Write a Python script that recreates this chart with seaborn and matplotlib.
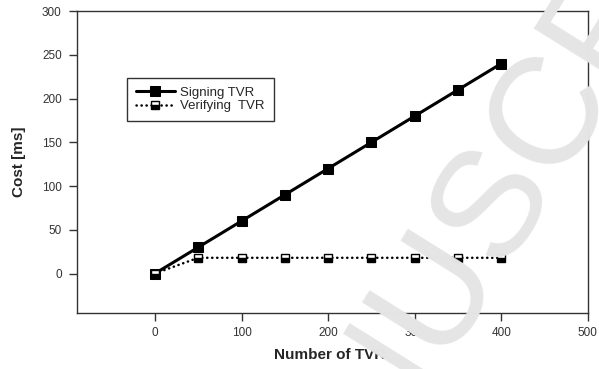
import pandas as pd
import matplotlib
matplotlib.use("Agg")
import matplotlib.pyplot as plt
import seaborn as sns

# values
tvr_counts = [0, 50, 100, 150, 200, 250, 300, 350, 400]
signing_ms = [0, 30, 60, 90, 120, 150, 180, 210, 240]
verifying_ms = [0, 18, 18, 18, 18, 18, 18, 18, 18]
x_ticks = [0, 100, 200, 300, 400, 500]
y_ticks = [0, 50, 100, 150, 200, 250, 300]

df = pd.DataFrame({"tvr": tvr_counts, "Signing TVR": signing_ms, "Verifying  TVR": verifying_ms})

sns.set_theme(style="white")
plt.rcParams['font.family'] = ['Liberation Sans', 'DejaVu Sans']

fig = plt.figure(figsize=(5.99, 3.69), dpi=100)
ax = fig.add_axes([0.1285, 0.152, 0.853, 0.818])

sns.lineplot(data=df, x="tvr", y="Signing TVR", ax=ax, color="black", linewidth=2.2,
             marker="s", markersize=6.5, markeredgecolor="black", markerfacecolor="black",
             label="Signing TVR")
sns.lineplot(data=df, x="tvr", y="Verifying  TVR", ax=ax, color="black", linewidth=1.8,
             linestyle=(0, (0.1, 1.9)), dash_capstyle="round",
             marker="s", markersize=6, markeredgecolor="black", markeredgewidth=1,
             fillstyle="bottom", markerfacecolor="black", markerfacecoloralt="white",
             label="Verifying  TVR")

ax.set_xlim(-90, 500)
ax.set_ylim(-45, 300)
ax.set_xticks(x_ticks)
ax.set_yticks(y_ticks)
ax.tick_params(axis="both", direction="out", length=6, width=1, color="#333333",
               labelsize=8.5, labelcolor="#333333",
               bottom=True, left=True, top=False, right=False)
ax.tick_params(axis="y", pad=5)
ax.tick_params(axis="x", pad=4)
for s in ax.spines.values():
    s.set_color("#333333")
    s.set_linewidth(1)

ax.set_xlabel("Number of TVR", fontsize=11, fontweight="bold")
ax.set_ylabel("Cost [ms]", fontsize=11, fontweight="bold")
ax.xaxis.set_label_coords(0.495, -0.139)
ax.xaxis.label.set_va("center")
ax.yaxis.set_label_coords(-0.1135, 0.5)
ax.yaxis.label.set_va("center")

leg = ax.legend(loc="upper left", bbox_to_anchor=(0.212, 0.789), bbox_transform=fig.transFigure,
                fontsize=9.5, frameon=True, fancybox=False, handlelength=3.0,
                borderpad=0.65, labelspacing=0.1, handletextpad=0.4, borderaxespad=0)
leg.get_frame().set_edgecolor("black")
leg.get_frame().set_linewidth(1)

# watermark
fig.text(0.826, 0.47, "MANUSCRIPT", fontsize=110, color="#e5e5e5", rotation=58,
         ha="center", va="center", rotation_mode="anchor", zorder=10)

fig.savefig("out.png", dpi=100)
